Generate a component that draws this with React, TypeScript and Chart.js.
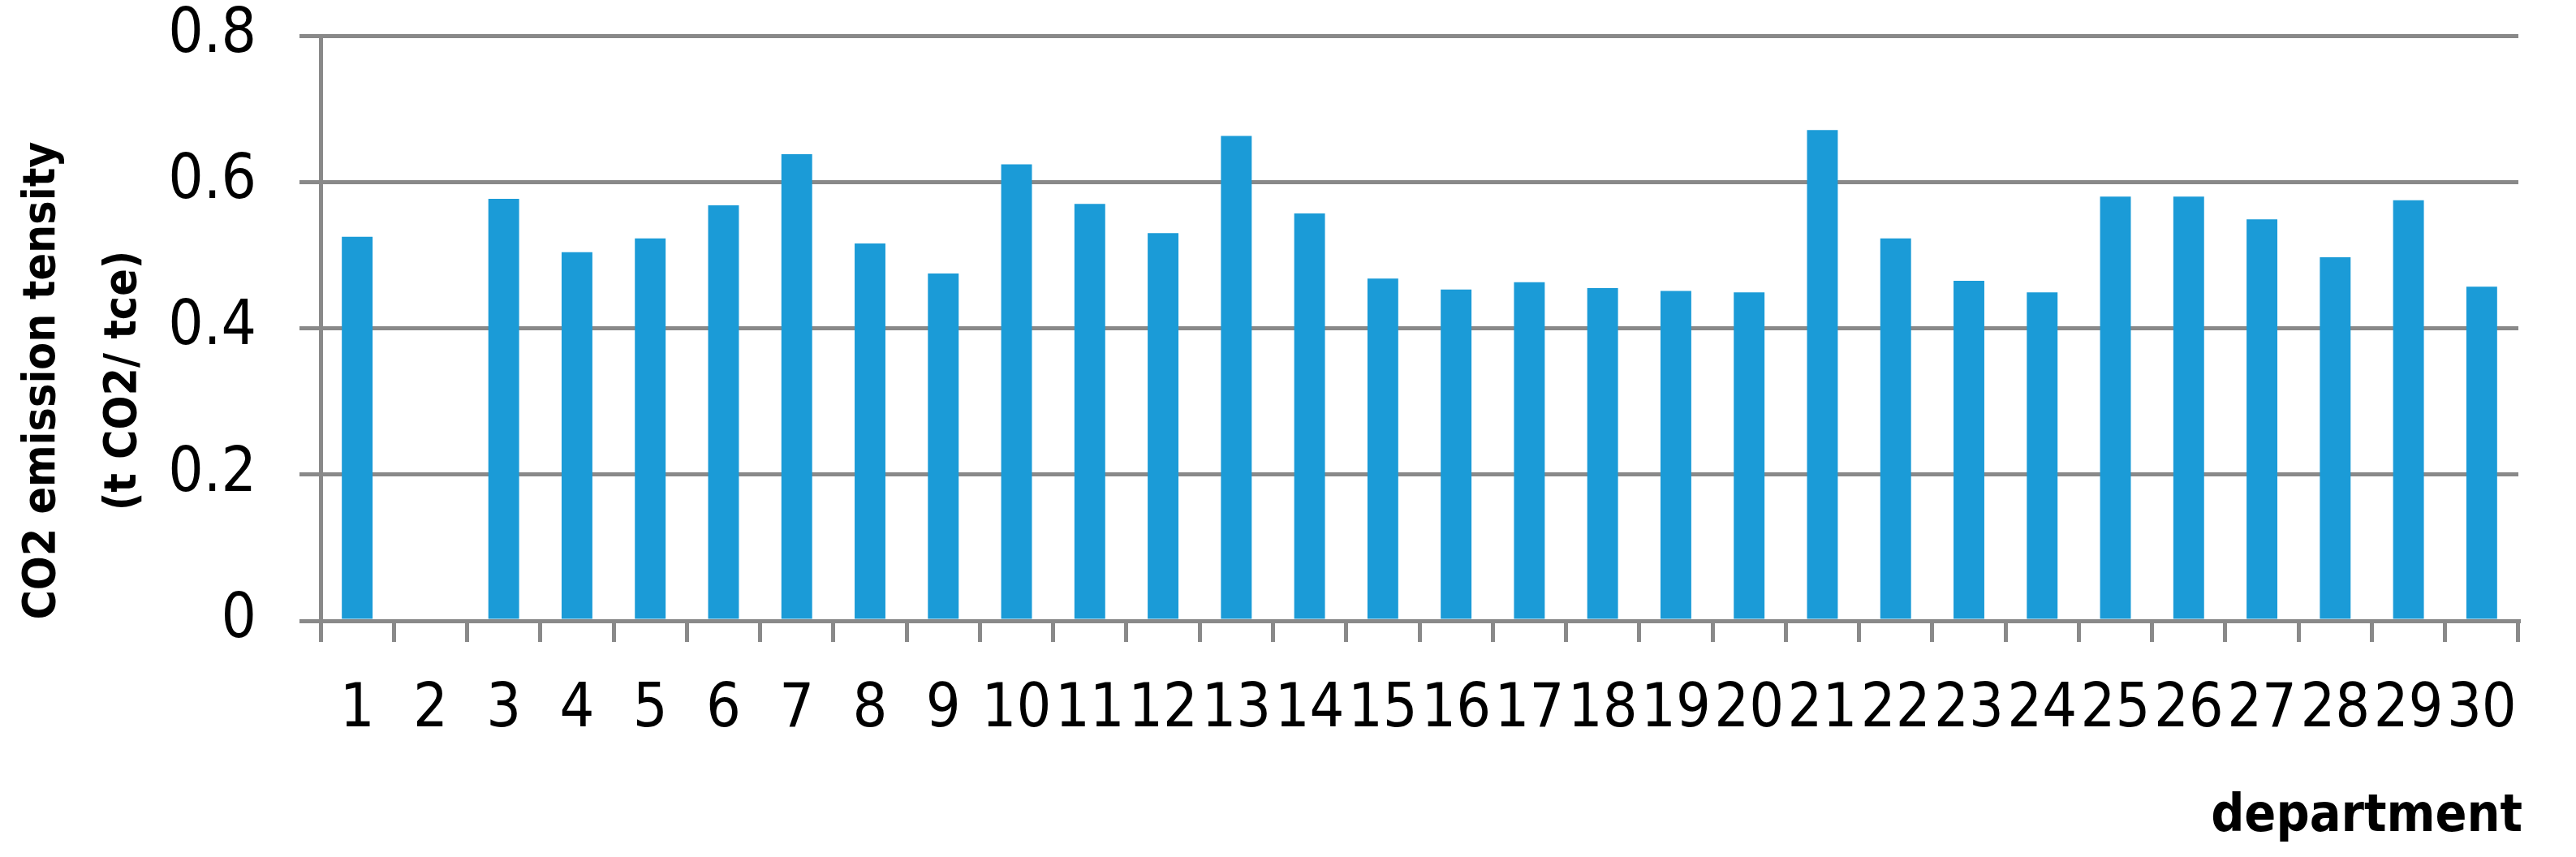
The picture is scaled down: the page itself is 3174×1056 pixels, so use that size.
import React, { useEffect, useRef } from "react";
import { Chart, registerables } from "chart.js";

Chart.register(...registerables);

const categories: string[] = [
  "1", "2", "3", "4", "5", "6", "7", "8", "9", "10",
  "11", "12", "13", "14", "15", "16", "17", "18", "19", "20",
  "21", "22", "23", "24", "25", "26", "27", "28", "29", "30",
];

const emissionIntensity: (number | null)[] = [
  0.525, null, 0.577, 0.504, 0.523, 0.568, 0.638, 0.516, 0.475, 0.624,
  0.570, 0.530, 0.663, 0.557, 0.468, 0.453, 0.463, 0.455, 0.451, 0.449,
  0.671, 0.523, 0.465, 0.449, 0.580, 0.580, 0.549, 0.497, 0.575, 0.457,
];

const yMin = 0;
const yMax = 0.8;
const yStep = 0.2;

const yTitleLines = ["CO2 emission tensity", "(t CO2/ tce)"];
const xTitle = "department";

const FONT = '"DejaVu Sans Condensed", "DejaVu Sans", sans-serif';
const GRID = "#898989";

const titlesPlugin = {
  id: "titlesPlugin",
  afterDraw(chart: any) {
    const ctx = chart.ctx as CanvasRenderingContext2D;
    ctx.save();
    ctx.fillStyle = "#000";
    ctx.font = `bold 55px ${FONT}`;
    ctx.textAlign = "center";
    ctx.textBaseline = "alphabetic";
    ctx.translate(0, 469);
    ctx.rotate(-Math.PI / 2);
    ctx.fillText(yTitleLines[0], 0, 67);
    ctx.fillText(yTitleLines[1], 0, 167);
    ctx.restore();

    ctx.save();
    ctx.fillStyle = "#000";
    ctx.font = `bold 64px ${FONT}`;
    ctx.textAlign = "right";
    ctx.textBaseline = "alphabetic";
    ctx.fillText(xTitle, 3108, 1024);
    ctx.restore();
  },
};

export default function App() {
  const canvasRef = useRef<HTMLCanvasElement | null>(null);

  useEffect(() => {
    const canvas = canvasRef.current;
    if (!canvas) return;
    const chart = new Chart(canvas, {
      type: "bar",
      data: {
        labels: categories,
        datasets: [
          {
            label: "CO2 emission tensity",
            data: emissionIntensity,
            backgroundColor: "#1B9BD7",
            borderWidth: 0,
            barPercentage: 0.42,
            categoryPercentage: 1.0,
          },
        ],
      },
      options: {
        animation: false,
        responsive: false,
        devicePixelRatio: 1,
        layout: { padding: { left: 0, right: 71, top: 44, bottom: 0 } },
        plugins: {
          legend: { display: false },
          tooltip: { enabled: false },
          title: { display: false },
        },
        scales: {
          x: {
            offset: true,
            grid: {
              display: true,
              drawOnChartArea: false,
              drawTicks: true,
              tickLength: 26,
              color: GRID,
              lineWidth: 5,
              offset: true,
            },
            border: { display: true, color: GRID, width: 5 },
            ticks: {
              autoSkip: false,
              maxRotation: 0,
              minRotation: 0,
              color: "#000",
              font: { family: FONT, size: 75 },
              padding: 40,
            },
            afterFit: (s: any) => {
              s.height = 1056 - 765;
              s.paddingLeft = 0;
              s.paddingRight = 0;
            },
          },
          y: {
            min: yMin,
            max: yMax,
            ticks: {
              stepSize: yStep,
              color: "#000",
              font: { family: FONT, size: 76 },
              padding: 53,
            },
            grid: {
              color: GRID,
              lineWidth: 5,
              drawTicks: true,
              tickLength: 26,
            },
            border: { display: true, color: GRID, width: 5 },
            afterFit: (s: any) => {
              s.width = 395;
              s.paddingTop = 0;
              s.paddingBottom = 0;
            },
          },
        },
      },
      plugins: [titlesPlugin],
    });
    return () => chart.destroy();
  }, []);

  return (
    <div style={{ position: "absolute", left: 0, top: 0, width: 3174, height: 1056, background: "#fff" }}>
      <canvas ref={canvasRef} width={3174} height={1056} style={{ display: "block", width: 3174, height: 1056 }} />
    </div>
  );
}
